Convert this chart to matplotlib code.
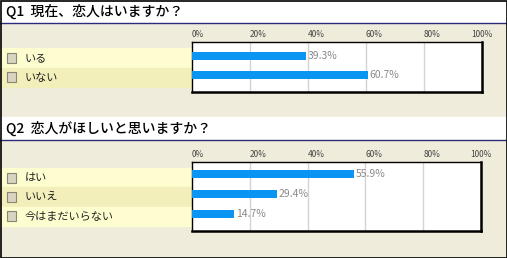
import matplotlib.pyplot as plt
from matplotlib.patches import Rectangle

plt.rcParams['font.family'] = ['Noto Sans CJK JP', 'DejaVu Sans']

# Survey data
q1_title = "Q1  現在、恋人はいますか？"
q1_labels = ["いる", "いない"]
q1_values = [39.3, 60.7]

q2_title = "Q2  恋人がほしいと思いますか？"
q2_labels = ["はい", "いいえ", "今はまだいらない"]
q2_values = [55.9, 29.4, 14.7]

tick_vals = [0, 20, 40, 60, 80, 100]

W, H = 507, 258
BG = '#efecdc'
BLUE = '#0b95f2'

fig = plt.figure(figsize=(W / 100, H / 100), dpi=100)
fig.patch.set_facecolor(BG)

# full-figure axes in pixel coordinates for the page decoration
bg = fig.add_axes([0, 0, 1, 1])
bg.set_xlim(0, W)
bg.set_ylim(H, 0)
bg.axis('off')


def px_axes(x0, y0, x1, y1):
    # pixel box (top-left origin) -> figure axes
    return fig.add_axes([x0 / W, 1 - y1 / H, (x1 - x0) / W, (y1 - y0) / H])


def section(title, ty0, ty1, labels, values, row_top, row_h, box, lim_top, lim_bot, bar_h):
    # title bar
    bg.add_patch(Rectangle((0, ty0), W, ty1 - ty0, color='white', zorder=1))
    bg.plot([0, W], [ty1 + 0.5, ty1 + 0.5], color='#2b2b7a', lw=1.0, zorder=2)
    bg.text(6, (ty0 + ty1) / 2 + 0.5, title, fontsize=10, fontweight='medium',
            va='center', ha='left', zorder=3)

    # label rows
    for i, lab in enumerate(labels):
        y = row_top + i * row_h
        col = '#fefdd0' if i % 2 == 0 else '#f2efba'
        bg.add_patch(Rectangle((0, y), box[0], row_h, color=col, zorder=1))
        bg.add_patch(Rectangle((6.5, y + row_h / 2 - 5), 9, 10, facecolor='#d9d4c0',
                               edgecolor='#8a8672', lw=0.8, zorder=2))
        bg.text(25, y + row_h / 2 + 0.5, lab, fontsize=8, va='center', ha='left',
                color='#222222', zorder=3)

    # tick labels above the box
    for t in tick_vals:
        x = box[0] + (box[2] - box[0]) * t / 100
        if t == 100:
            x -= 11
        bg.text(x, box[1] - 3, f"{t}%", fontsize=6, color='#444444',
                va='bottom', ha='left', zorder=3)

    ax = px_axes(*box)
    ax.set_facecolor('white')
    ypos = list(range(len(values)))
    ax.barh(ypos, values, height=bar_h, color=BLUE, zorder=3)
    for y, v in zip(ypos, values):
        ax.text(v + 0.6, y, f"{v}%", fontsize=7.5, color='#8a8a8a',
                va='center', ha='left', zorder=4)
    for t in tick_vals[1:-1]:
        ax.axvline(t, color='#d4d4d4', lw=1.0, zorder=1)
    ax.set_xlim(0, 100)
    ax.set_ylim(lim_bot, lim_top)
    ax.set_xticks([])
    ax.set_yticks([])
    for s in ax.spines.values():
        s.set_color('black')
        s.set_linewidth(1.0)
    ax.spines['right'].set_linewidth(1.8)
    ax.spines['bottom'].set_linewidth(1.8)


section(q1_title, 0, 22, q1_labels, q1_values, 48, 19.5,
        (192, 42, 482, 92), -0.74, 1.9, 0.42)
section(q2_title, 117, 139, q2_labels, q2_values, 168, 19.3,
        (192, 162, 481, 231), -0.6, 2.85, 0.42)

# outer frame
bg.add_patch(Rectangle((0.5, 0.5), W - 1, H - 1, fill=False, edgecolor='black',
                       lw=1.2, zorder=5))

fig.savefig('out.png', dpi=100, facecolor=BG)
